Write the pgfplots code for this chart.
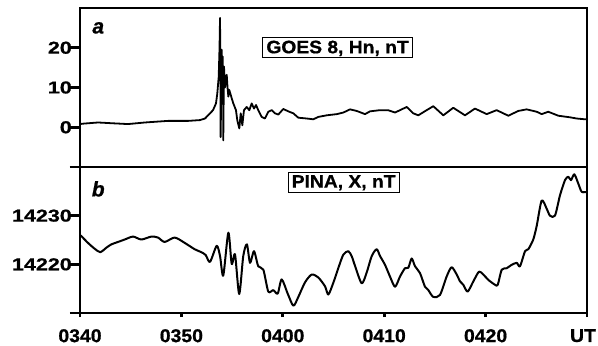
\documentclass[border=0pt]{standalone}
\usepackage{pgfplots}
\usepackage{pgfplotstable}
\pgfplotsset{compat=1.18}
\usepackage{fontspec}
\setmainfont{Liberation Sans}
\newfontfamily\ylabfont[FakeStretch=1.25, FakeBold=0.8]{Liberation Sans}
\newfontfamily\xlabfont[FakeStretch=1.05, FakeBold=0.8]{Liberation Sans}
\newfontfamily\boxfont[FakeStretch=1.07, FakeBold=0.8]{Liberation Sans}
\newfontfamily\tagfont[FakeBold=0.8]{Liberation Sans}

% GOES 8 Hn component (nT), minutes after 03:40 UT
\pgfplotstableread{
m v
0.00 0.8
0.30 0.9
1.78 1.2
3.20 1.0
4.73 0.8
6.41 1.2
8.68 1.6
10.65 1.6
11.83 1.8
12.33 2.2
12.82 3.5
13.12 4.3
13.41 6.0
13.54 8.5
13.68 12.7
13.76 20.0
13.81 27.5
13.85 10.0
13.87 -2.5
13.92 8.0
13.97 19.5
14.02 12.0
14.07 17.8
14.12 5.0
14.13 -3.3
14.17 8.0
14.20 15.3
14.30 10.0
14.40 12.0
14.47 13.2
14.55 10.0
14.63 7.7
14.72 9.4
14.96 7.3
15.12 6.0
15.38 4.3
15.51 1.8
15.71 -0.3
15.85 3.5
16.01 0.5
16.17 4.3
16.44 5.1
16.70 4.3
16.93 6.0
17.16 4.7
17.36 5.6
17.58 4.3
17.92 2.6
18.24 2.2
18.57 3.9
18.91 4.3
19.23 3.5
19.56 3.2
20.05 4.6
20.54 4.0
21.04 3.5
21.53 2.4
22.36 2.2
23.01 2.0
23.50 2.6
24.33 3.0
25.32 3.3
25.97 3.7
26.63 4.5
27.29 4.1
28.11 3.3
28.60 4.0
29.59 4.3
30.37 4.3
31.07 3.7
31.56 4.3
32.22 5.1
32.87 3.5
33.36 3.0
34.19 4.3
34.84 5.3
35.83 3.0
36.81 4.9
37.97 3.0
38.95 4.7
40.11 3.3
41.09 4.3
42.24 2.9
43.22 4.1
44.05 4.5
45.04 3.9
45.53 3.3
46.18 3.9
47.17 2.9
48.32 2.5
48.98 2.2
49.80 2.0
50.00 2.0
}\goesdata

% PINA X component (nT), minutes after 03:40 UT
\pgfplotstableread{
m v
0.00 14226.0
0.13 14225.8
0.79 14224.4
1.45 14223.2
2.00 14222.5
2.59 14223.4
3.09 14224.1
3.75 14224.6
4.41 14225.1
5.23 14225.7
6.05 14225.1
7.03 14225.7
7.69 14225.5
8.35 14224.6
9.34 14225.5
10.33 14224.4
11.31 14223.1
11.96 14222.5
12.40 14221.9
12.82 14220.5
13.48 14223.8
13.81 14221.7
14.13 14217.7
14.63 14226.5
14.96 14220.1
15.29 14222.0
15.70 14213.9
16.10 14221.7
16.46 14224.1
16.77 14220.3
17.16 14222.7
17.58 14219.6
18.08 14218.9
18.57 14214.4
19.06 14214.7
19.50 14214.0
19.89 14216.9
20.48 14214.0
21.04 14211.5
21.53 14213.3
22.19 14216.3
22.85 14217.9
23.50 14217.3
24.16 14215.5
24.49 14213.8
24.98 14216.2
25.47 14219.2
25.97 14222.0
26.46 14222.7
26.79 14221.7
27.12 14219.7
27.78 14216.1
28.27 14218.3
28.77 14221.7
29.26 14223.1
29.59 14221.7
30.08 14219.9
30.57 14217.5
31.07 14215.4
31.56 14217.5
32.05 14219.2
32.38 14219.3
32.71 14221.2
33.04 14219.6
33.53 14218.2
34.02 14215.4
34.35 14214.7
34.84 14213.3
35.50 14213.7
36.16 14217.5
36.65 14219.4
37.15 14217.9
37.48 14216.5
37.80 14215.8
38.23 14214.4
38.79 14216.5
39.35 14218.5
39.78 14217.9
40.27 14216.8
40.93 14215.8
41.20 14215.8
41.59 14218.9
42.08 14219.2
42.57 14219.9
43.07 14220.3
43.39 14219.6
43.89 14222.7
44.21 14223.1
44.70 14225.1
45.04 14227.9
45.53 14233.1
46.03 14231.4
46.35 14230.0
46.84 14230.0
47.34 14234.2
47.83 14237.3
48.16 14238.0
48.42 14237.3
48.75 14238.5
49.14 14236.6
49.48 14234.9
50.00 14234.9
}\pinadata

\begin{document}
\begin{tikzpicture}
\path[use as bounding box] (0,0) rectangle (598bp,346bp);
\pgfplotsset{
  panel/.style={
    scale only axis, width=507bp,
    xmin=0, xmax=50,
    axis line style={line width=2.8bp, black},
    tick style={line width=2.8bp, black},
    tick align=outside,
    xtick pos=bottom, ytick pos=left,
    major tick length=4bp,
    x tick label style={font=\fontsize{18.5bp}{20bp}\xlabfont\bfseries, inner sep=2bp, yshift=-10bp},
    y tick label style={font=\fontsize{17.2bp}{20bp}\ylabfont\bfseries, inner sep=2bp, xshift=4bp},
    ytick=\empty,
    extra y tick style={major tick length=10bp},
    clip=false,
  },
}
% top panel: GOES 8
\begin{axis}[panel,
  at={(80bp,179bp)}, anchor=south west,
  height=159bp, ymin=-10, ymax=30,
  xtick=\empty,
  extra y ticks={-10,0,10,20},
  extra y tick labels={{},0,10,20},
]
\addplot[black, line width=1.8bp, line join=round] table[x=m, y=v] {\goesdata};
\node[font=\fontsize{21bp}{23bp}\tagfont\bfseries\itshape] at (axis cs:1.8,25) {a};
\node[draw=black, line width=0.8bp, fill=white,
      font=\fontsize{18bp}{20bp}\boxfont\bfseries,
      inner xsep=3.5bp, inner ysep=2.5bp, text height=13bp, text depth=2bp]
      at (axis cs:25.4,20) {GOES 8, Hn, nT};
\end{axis}
% bottom panel: PINA
\begin{axis}[panel,
  at={(80bp,33bp)}, anchor=south west,
  height=146bp, ymin=14210, ymax=14240,
  xtick={0,10,20,30,40,50},
  xticklabels={0340,0350,0400,0410,0420,{UT\hspace*{8bp}}},
  extra y ticks={14210,14220,14230,14240},
  extra y tick labels={{},14220,14230,{}},
]
\addplot[black, line width=2bp, smooth, tension=0.45, line join=round] table[x=m, y=v] {\pinadata};
\node[font=\fontsize{21bp}{23bp}\tagfont\bfseries\itshape] at (axis cs:1.8,14235.5) {b};
\node[draw=black, line width=0.8bp, fill=white,
      font=\fontsize{18bp}{20bp}\boxfont\bfseries,
      inner xsep=3.5bp, inner ysep=2.5bp, text height=13bp, text depth=2bp]
      at (axis cs:26.0,14236.9) {PINA, X, nT};
\end{axis}
\end{tikzpicture}
\end{document}
